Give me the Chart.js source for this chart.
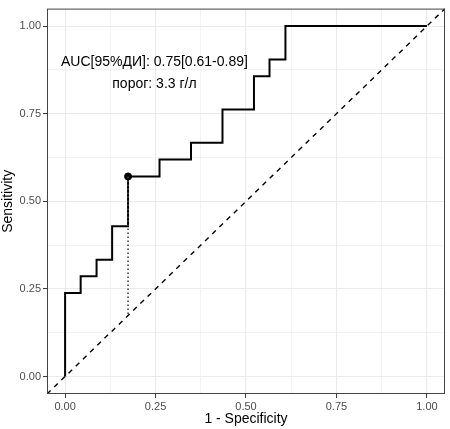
<!DOCTYPE html>
<html>
<head>
<meta charset="utf-8">
<script src="https://cdn.jsdelivr.net/npm/chart.js@4/dist/chart.umd.min.js"></script>
<style>
  html, body { margin: 0; padding: 0; background: #fff; }
  #wrap { width: 450px; height: 429px; }
</style>
</head>
<body>
<div id="wrap"><canvas id="roc" width="450" height="429"></canvas></div>
<script>
/* ROC curve data */
const fpr = [0, 0, 0.043, 0.043, 0.087, 0.087, 0.13, 0.13, 0.174, 0.174,
             0.261, 0.261, 0.348, 0.348, 0.435, 0.435, 0.522, 0.522,
             0.565, 0.565, 0.609, 0.609, 1];
const tpr = [0, 0.238, 0.238, 0.286, 0.286, 0.333, 0.333, 0.429, 0.429, 0.571,
             0.571, 0.619, 0.619, 0.667, 0.667, 0.762, 0.762, 0.857,
             0.857, 0.905, 0.905, 1, 1];

// best threshold point and chance line
const cutX = [0.174, 0.174];
const cutY = [0.571, 0.174];
const chanceX = [-0.05, 1.05];
const chanceY = [-0.05, 1.05];

// axis ticks (majors labelled, minors only get a grid line)
const tickValues = [0, 0.125, 0.25, 0.375, 0.5, 0.625, 0.75, 0.875, 1];
const tickLabels = ['0.00', '', '0.25', '', '0.50', '', '0.75', '', '1.00'];

const annoLines = ['AUC[95%ДИ]: 0.75[0.61-0.89]', 'порог: 3.3 г/л'];
const annoX = 0.247;
const annoY = [0.896, 0.834];

const FONT = "'Liberation Sans', Arial, sans-serif";
const isMajor = v => tickLabels[tickValues.indexOf(v)] !== '';

function zip(xs, ys) {
  return xs.map((x, i) => ({ x, y: ys[i] }));
}

function axis(title, fitFn) {
  return {
    type: 'linear',
    min: -0.05,
    max: 1.05,
    afterBuildTicks: s => { s.ticks = tickValues.map(v => ({ value: v })); },
    afterFit: fitFn,
    border: { display: false },
    grid: {
      color: '#EBEBEB',
      lineWidth: c => (c.tick && isMajor(c.tick.value)) ? 1.1 : 0.6,
      tickColor: c => (c.tick && isMajor(c.tick.value)) ? '#333333' : 'rgba(0,0,0,0)',
      tickLength: 4,
      tickWidth: 1
    },
    ticks: {
      autoSkip: false,
      maxRotation: 0,
      padding: 2,
      color: '#4D4D4D',
      font: { family: FONT, size: 11 },
      callback: v => tickLabels[tickValues.indexOf(v)] ?? ''
    },
    title: {
      display: true,
      text: title,
      color: '#000',
      padding: { top: 0, bottom: 1 },
      font: { family: FONT, size: 14 }
    }
  };
}

// panel border + annotation text
const panelPlugin = {
  id: 'panel',
  afterDraw(chart) {
    const { ctx, chartArea: a, scales } = chart;
    ctx.save();
    ctx.strokeStyle = '#444444';
    ctx.lineWidth = 1;
    ctx.strokeRect(a.left + 0.5, a.top + 0.5, a.right - a.left - 1, a.bottom - a.top - 1);
    ctx.fillStyle = '#000';
    ctx.font = '14px ' + FONT;
    ctx.textAlign = 'center';
    ctx.textBaseline = 'middle';
    annoLines.forEach((t, i) => {
      ctx.fillText(t, scales.x.getPixelForValue(annoX), scales.y.getPixelForValue(annoY[i]));
    });
    ctx.restore();
  }
};

new Chart(document.getElementById('roc'), {
  type: 'scatter',
  data: {
    datasets: [
      {
        data: zip(chanceX, chanceY),
        showLine: true,
        borderColor: '#000',
        borderWidth: 1.4,
        borderDash: [5, 5],
        pointRadius: 0
      },
      {
        data: zip(cutX, cutY),
        showLine: true,
        borderColor: '#444',
        borderWidth: 1.6,
        borderDash: [1.5, 2.5],
        pointRadius: 0
      },
      {
        data: zip(fpr, tpr),
        showLine: true,
        borderColor: '#000',
        borderWidth: 2,
        pointRadius: 0,
        tension: 0
      },
      {
        data: zip([cutX[0]], [cutY[0]]),
        pointRadius: 3.5,
        pointBackgroundColor: '#000',
        pointBorderColor: '#000',
        showLine: false
      }
    ]
  },
  options: {
    responsive: false,
    animation: false,
    layout: { padding: { top: 2, right: 2, left: 0, bottom: 0 } },
    plugins: { legend: { display: false }, tooltip: { enabled: false } },
    scales: {
      x: axis('1 - Specificity', s => { s.height = 35; }),
      y: axis('Sensitivity', s => { s.width = 47; })
    }
  },
  plugins: [panelPlugin]
});
</script>
</body>
</html>
